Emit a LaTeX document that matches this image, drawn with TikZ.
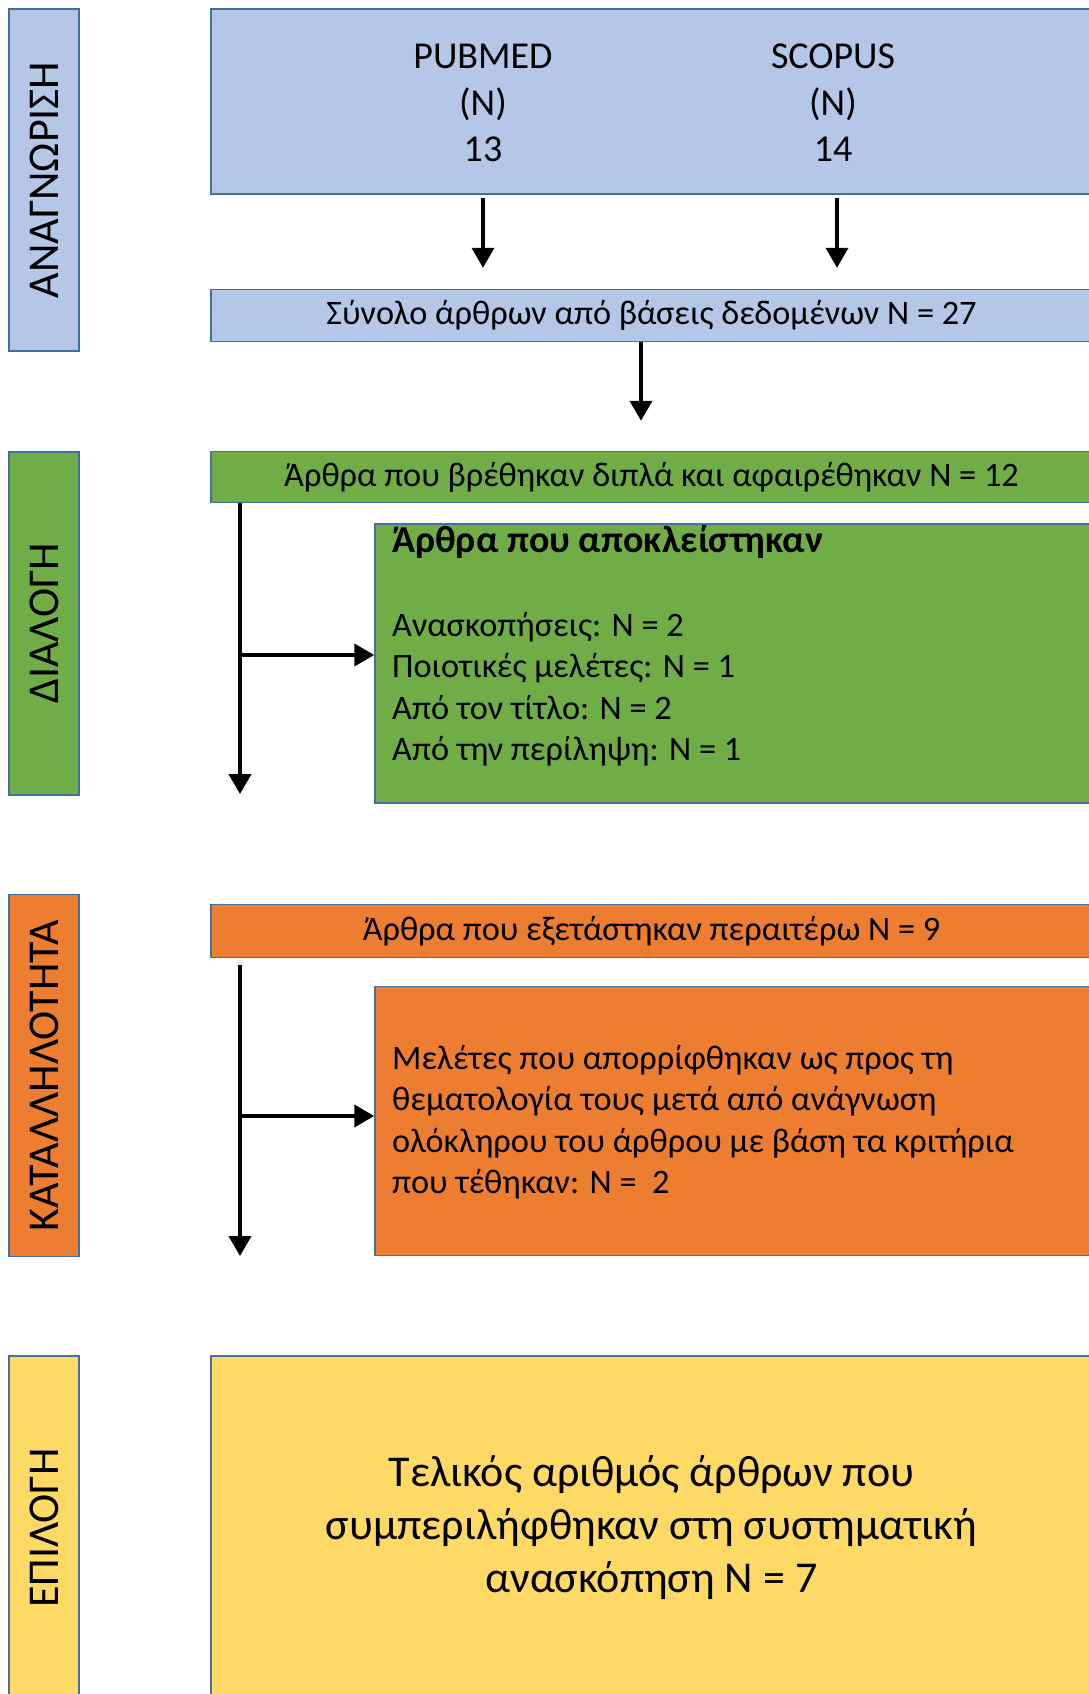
\documentclass[tikz,border=0pt]{standalone}
\usepackage{fontspec}
\setmainfont{Carlito}
\usetikzlibrary{arrows.meta, positioning}
\definecolor{phaseID}{HTML}{B4C7E7}
\definecolor{phaseSC}{HTML}{70AD47}
\definecolor{phaseEL}{HTML}{ED7D31}
\definecolor{phaseIN}{HTML}{FFD966}
\definecolor{edge}{HTML}{41719C}

\begin{document}
\begin{tikzpicture}[x=1pt, y=-1pt,
    phase/.style={draw=edge, line width=1.5pt, fill=#1, rotate=90,
                  minimum height=70pt, inner sep=0pt,
                  font=\fontsize{44}{53}\selectfont},
    box/.style={draw=edge, line width=1.5pt, fill=#1, inner sep=0pt},
    txt/.style={font=\fontsize{34.3}{41.5}\selectfont, inner sep=0pt},
    arr/.style={-{Triangle[width=22pt, length=20pt]}, line width=4pt}
  ]
  \clip (0,0) rectangle (1089,1694);

  % identification
  \node[phase=phaseID, minimum width=342pt] (lid) at (44,180) {ΑΝΑΓΝΩΡΙΣΗ};
  \node[box=phaseID, minimum width=881pt, minimum height=185pt] (src) at (651.5,101.5) {};
  \node[txt, align=center, font=\fontsize{38}{46.5}\selectfont] (pubmed) at (483,103) {PUBMED\\(N)\\13};
  \node[txt, align=center, font=\fontsize{38}{46.5}\selectfont] (scopus) at (833,103) {SCOPUS\\(N)\\14};
  \node[box=phaseID, txt, minimum width=881pt, minimum height=52pt] (total) at (651.5,315.5)
    {Σύνολο άρθρων από βάσεις δεδομένων N = 27};
  \draw[arr, shorten <=3pt, shorten >=21pt] ([xshift=4pt]scopus.south |- src.south) -- ([xshift=4pt]scopus.south |- total.north);
  \draw[arr, shorten <=3pt, shorten >=21pt] (pubmed |- src.south) -- (pubmed |- total.north);

  % screening
  \node[phase=phaseSC, minimum width=343pt] (lsc) at (44,623.3) {ΔΙΑΛΟΓΗ};
  \node[box=phaseSC, txt, minimum width=881pt, minimum height=51pt] (dup) at (651.5,477)
    {Άρθρα που βρέθηκαν διπλά και αφαιρέθηκαν N = 12};
  \draw[arr, shorten >=30pt] ([xshift=-10.5pt]total.south) -- ([xshift=-10.5pt]dup.north);
  \node[box=phaseSC, minimum width=725pt, minimum height=279pt] (gbox) at (737.5,663.5) {};
  \node[txt, font=\fontsize{38}{46}\selectfont\bfseries, anchor=west] (gtitle) at (392,542)
    {Άρθρα που αποκλείστηκαν};
  \node[txt, align=left, anchor=west] (glist) at (392,689)
    {Ανασκοπήσεις: N = 2\\Ποιοτικές μελέτες: N = 1\\Από τον τίτλο: N = 2\\Από την περίληψη: N = 1};
  \coordinate (gdown) at (240,794);
  \coordinate (gsplit) at (240,655);
  \draw[arr] (dup.south -| gdown) -- (gdown);
  \draw[arr] (gsplit) -- (gsplit -| gbox.west);

  % eligibility
  \node[phase=phaseEL, minimum width=362pt] (lel) at (44,1075.5) {ΚΑΤΑΛΛΗΛΟΤΗΤΑ};
  \node[box=phaseEL, txt, minimum width=881pt, minimum height=53pt] (chk) at (651.5,930.8)
    {Άρθρα που εξετάστηκαν περαιτέρω N = 9};
  \node[box=phaseEL, minimum width=725pt, minimum height=269pt] (obox) at (737.5,1121) {};
  \node[txt, align=left, anchor=west] (olist) at (392,1122)
    {Μελέτες που απορρίφθηκαν ως προς τη\\θεματολογία τους μετά από ανάγνωση\\ολόκληρου του άρθρου με βάση τα κριτήρια\\που τέθηκαν: N =~~2};
  \coordinate (odown) at (240,1256);
  \coordinate (osplit) at (240,1116);
  \draw[arr, shorten <=7pt] (chk.south -| odown) -- (odown);
  \draw[arr] (osplit) -- (osplit -| obox.west);

  % inclusion
  \node[phase=phaseIN, minimum width=344pt] (lin) at (44,1528) {ΕΠΙΛΟΓΗ};
  \node[box=phaseIN, minimum width=881pt, minimum height=344pt, align=center,
        font=\fontsize{44}{53}\selectfont] (final) at (651.5,1528)
    {Τελικός αριθμός άρθρων που\\συμπεριλήφθηκαν στη συστηματική\\ανασκόπηση N = 7};
\end{tikzpicture}
\end{document}
